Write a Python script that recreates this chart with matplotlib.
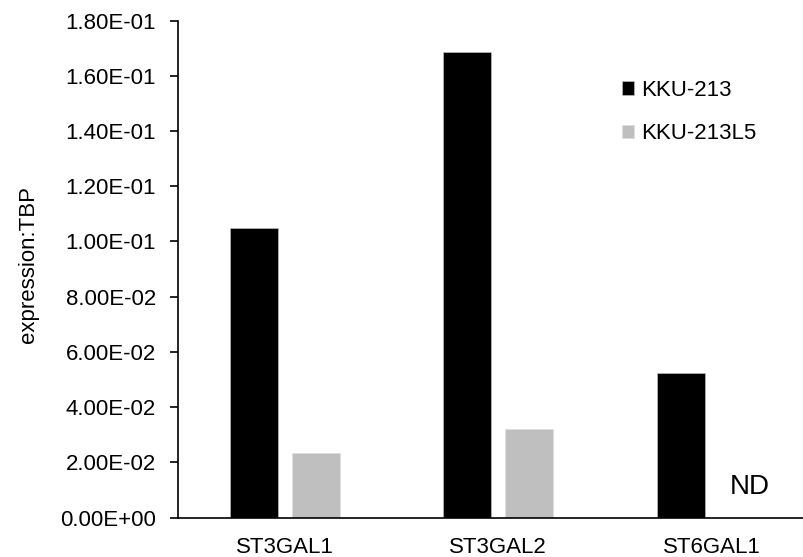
import matplotlib
matplotlib.use("Agg")
import matplotlib.pyplot as plt
import numpy as np

plt.rcParams['font.family'] = ['Liberation Sans', 'DejaVu Sans']

categories = ["ST3GAL1", "ST3GAL2", "ST6GAL1"]
kku213 = [0.1048, 0.1688, 0.0525]
kku213l5 = [0.0235, 0.0322, np.nan]
series_names = ["KKU-213", "KKU-213L5"]
yticks = [0, 0.02, 0.04, 0.06, 0.08, 0.10, 0.12, 0.14, 0.16, 0.18]
ytick_labels = ["0.00E+00", "2.00E-02", "4.00E-02", "6.00E-02", "8.00E-02",
                "1.00E-01", "1.20E-01", "1.40E-01", "1.60E-01", "1.80E-01"]

W, H = 804, 557
fig = plt.figure(figsize=(W / 100, H / 100), dpi=100)
left, right, bottom, top = 178, 178 + 3 * 213.5, 517.5, 20.7
ax = fig.add_axes([left / W, (H - bottom) / H, (right - left) / W, (bottom - top) / H])

x = np.arange(len(categories))
bw = 0.225
off = 0.146
ax.bar(x - off, kku213, bw, color='black', edgecolor='#c8c8c8', linewidth=0.4, label=series_names[0])
ax.bar(x + off, kku213l5, bw, color='#bfbfbf', edgecolor='#dddddd', linewidth=0.4, label=series_names[1])

ax.set_xlim(-0.5, 2.5)
ax.set_ylim(0, 0.18)
ax.set_yticks(yticks)
ax.set_yticklabels(ytick_labels)
ax.set_xticks(x)
ax.set_xticklabels(categories)

fs = 16
for s in ['top', 'right']:
    ax.spines[s].set_visible(False)
for s in ['left', 'bottom']:
    ax.spines[s].set_linewidth(1.2)
ax.tick_params(axis='y', direction='out', length=6, width=1.2, pad=10, labelsize=fs)
ax.tick_params(axis='x', length=0, pad=14, labelsize=fs)

ax.set_ylabel("expression:TBP", fontsize=fs)
ax.yaxis.set_label_coords(-(178 - 39) / (right - left), (bottom - 265) / (bottom - top))

ax.text(2.176, 0.011, "ND", fontsize=20, ha='center', va='center')

leg = ax.legend(loc='upper left', bbox_to_anchor=((613 - left) / (right - left), (bottom - 71) / (bottom - top)),
                frameon=False, fontsize=fs, handlelength=0.55, handleheight=0.55,
                handletextpad=0.3, labelspacing=1.0, borderaxespad=0)

fig.savefig("out.png", dpi=100)
